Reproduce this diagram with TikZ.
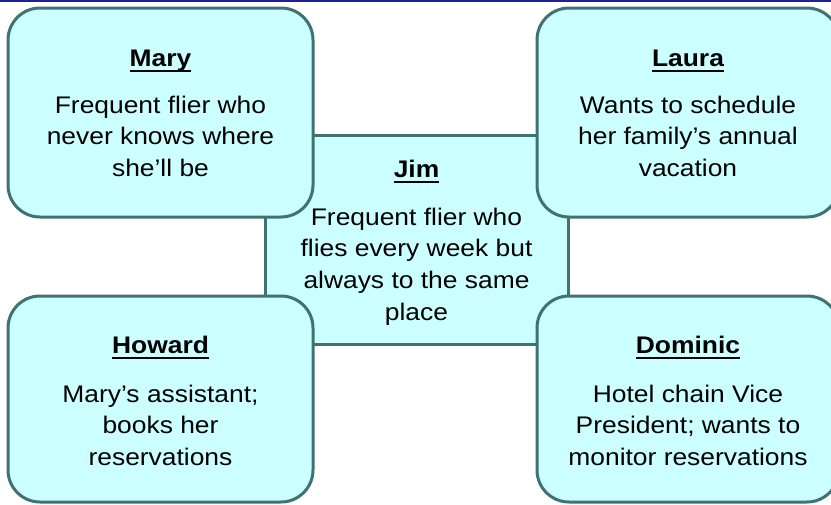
\documentclass[tikz,border=0pt]{standalone}
\usepackage{fontspec}
\setmainfont{Liberation Sans}[FakeStretch=1.1]
\definecolor{boxline}{HTML}{3F7272}
\definecolor{boxfill}{HTML}{CCFFFF}
\definecolor{topline}{HTML}{1F1F99}
\newcommand{\ttlul}[1]{\setbox0\hbox{#1}\rlap{\rule[-6pt]{\wd0}{2pt}}\box0}
\tikzset{
  person/.style={draw=boxline, fill=boxfill, line width=3pt, rounded corners=32pt, inner sep=0pt},
  center box/.style={draw=boxline, fill=boxfill, line width=3pt, inner sep=0pt},
  ttl/.style={anchor=base, inner sep=0pt, font=\fontsize{24}{32}\selectfont\bfseries},
  desc/.style={anchor=base, inner sep=0pt, font=\fontsize{24}{31.7}\selectfont},
}
\begin{document}
\begin{tikzpicture}[x=1pt, y=-1pt]
\useasboundingbox (0,0) rectangle (831,504);
\clip (0,0) rectangle (831,504);
\fill[topline] (0,0) rectangle (831,2);
% Jim (behind)
\node[center box, minimum width=303pt, minimum height=209pt] (jim) at (416.5,239.5) {};
\node[ttl] (jimt) at (416.5,177) {\ttlul{Jim}};
\node[desc] (jimd) at (416.5,225) {\begin{tabular}[t]{@{}c@{}}Frequent flier who\\flies every week but\\always to the same\\place\end{tabular}};
% Mary
\node[person, minimum width=305pt, minimum height=209pt] (mary) at (160.5,112.5) {};
\node[ttl] (maryt) at (160.5,66) {\ttlul{Mary}};
\node[desc] (maryd) at (160.5,113) {\begin{tabular}[t]{@{}c@{}}Frequent flier who\\never knows where\\she’ll be\end{tabular}};
% Laura
\node[person, minimum width=302pt, minimum height=209pt] (laura) at (688,112.5) {};
\node[ttl] (laurat) at (688,66) {\ttlul{Laura}};
\node[desc] (laurad) at (688,113) {\begin{tabular}[t]{@{}c@{}}Wants to schedule\\her family’s annual\\vacation\end{tabular}};
% Howard
\node[person, minimum width=305pt, minimum height=206pt] (howard) at (160.5,399) {};
\node[ttl] (howardt) at (160.5,353) {\ttlul{Howard}};
\node[desc] (howardd) at (160.5,402) {\begin{tabular}[t]{@{}c@{}}Mary’s assistant;\\books her\\reservations\end{tabular}};
% Dominic
\node[person, minimum width=302pt, minimum height=206pt] (dominic) at (688,399) {};
\node[ttl] (dominict) at (688,353) {\ttlul{Dominic}};
\node[desc] (dominicd) at (688,402) {\begin{tabular}[t]{@{}c@{}}Hotel chain Vice\\President; wants to\\monitor reservations\end{tabular}};
\end{tikzpicture}
\end{document}
